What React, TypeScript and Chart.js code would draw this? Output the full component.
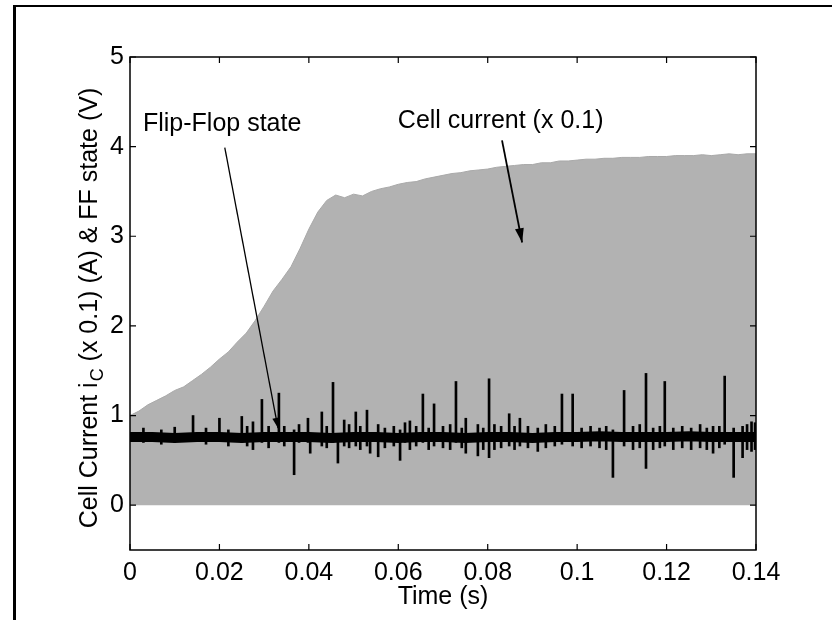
import { useEffect, useRef } from "react";
import { Chart, registerables } from "chart.js";

Chart.register(...registerables);

const FONT = "'Liberation Sans', Arial, Helvetica, sans-serif";

// Axis ticks
const xTickValues = [0, 0.02, 0.04, 0.06, 0.08, 0.1, 0.12, 0.14];
const xTickLabels = ["0", "0.02", "0.04", "0.06", "0.08", "0.1", "0.12", "0.14"];
const yTickValues = [0, 1, 2, 3, 4, 5];
const yTickLabels = ["0", "1", "2", "3", "4", "5"];

// Cell current (x 0.1): upper envelope of the switching current (filled down to 0)
const envelopeTime = [
  0, 0.002, 0.004, 0.006, 0.008, 0.01, 0.012, 0.014, 0.016, 0.018, 0.02, 0.022, 0.024, 0.026, 0.028,
  0.03, 0.032, 0.034, 0.036, 0.038, 0.04, 0.042, 0.044, 0.046, 0.048, 0.05, 0.052, 0.054, 0.056, 0.058,
  0.06, 0.062, 0.064, 0.066, 0.068, 0.07, 0.072, 0.074, 0.076, 0.078, 0.08, 0.082, 0.084, 0.086, 0.088,
  0.09, 0.092, 0.094, 0.096, 0.098, 0.1, 0.102, 0.104, 0.106, 0.108, 0.11, 0.112, 0.114, 0.116, 0.118,
  0.12, 0.122, 0.124, 0.126, 0.128, 0.13, 0.132, 0.134, 0.136, 0.138, 0.14,
];
const envelopeValue = [
  1.0, 1.05, 1.12, 1.17, 1.22, 1.28, 1.32, 1.39, 1.46, 1.54, 1.63, 1.71, 1.82, 1.92, 2.06,
  2.22, 2.39, 2.52, 2.66, 2.86, 3.08, 3.27, 3.4, 3.46, 3.43, 3.47, 3.45, 3.5, 3.53, 3.55,
  3.58, 3.6, 3.61, 3.64, 3.66, 3.68, 3.7, 3.71, 3.73, 3.74, 3.75, 3.77, 3.78, 3.79, 3.8,
  3.8, 3.82, 3.82, 3.84, 3.84, 3.85, 3.86, 3.86, 3.87, 3.87, 3.88, 3.88, 3.88, 3.89, 3.89,
  3.89, 3.9, 3.9, 3.9, 3.91, 3.9, 3.91, 3.92, 3.91, 3.92, 3.92,
];

// Flip-Flop state: baseline level
const ffTime = [
  0, 0.005, 0.01, 0.015, 0.02, 0.025, 0.03, 0.035, 0.04, 0.045, 0.05, 0.055, 0.06, 0.065, 0.07,
  0.075, 0.08, 0.085, 0.09, 0.095, 0.1, 0.105, 0.11, 0.115, 0.12, 0.125, 0.13, 0.135, 0.14,
];
const ffValue = [
  0.76, 0.76, 0.75, 0.76, 0.76, 0.75, 0.76, 0.76, 0.76, 0.75, 0.76, 0.76, 0.75, 0.76, 0.76,
  0.75, 0.76, 0.76, 0.75, 0.76, 0.76, 0.77, 0.76, 0.76, 0.76, 0.77, 0.76, 0.76, 0.76,
];

// Flip-Flop state: spikes (time, lowest value, highest value)
const spikeTime = [
  0.003, 0.007, 0.01, 0.0141, 0.017, 0.02, 0.022, 0.025, 0.0262, 0.0275, 0.0295, 0.031, 0.0333, 0.0345,
  0.0367, 0.0378, 0.0398, 0.0403, 0.0429, 0.044, 0.0454, 0.0465, 0.0479, 0.049, 0.0505, 0.0515, 0.053,
  0.0537, 0.0555, 0.057, 0.059, 0.0604, 0.0615, 0.0626, 0.064, 0.0655, 0.0668, 0.068, 0.07, 0.0716,
  0.0729, 0.0742, 0.0751, 0.0778, 0.079, 0.0803, 0.0815, 0.083, 0.0848, 0.086, 0.0872, 0.089, 0.0912,
  0.093, 0.095, 0.0966, 0.099, 0.101, 0.103, 0.105, 0.1065, 0.108, 0.1105, 0.1125, 0.114, 0.1154,
  0.117, 0.1185, 0.1196, 0.1215, 0.1235, 0.1255, 0.1275, 0.129, 0.1304, 0.1318, 0.133, 0.135, 0.137,
  0.138, 0.139, 0.1398,
];
const spikeLow = [
  0.7, 0.68, 0.7, 0.72, 0.68, 0.72, 0.66, 0.7, 0.66, 0.62, 0.7, 0.64, 0.7, 0.66,
  0.34, 0.7, 0.7, 0.58, 0.66, 0.64, 0.7, 0.47, 0.66, 0.64, 0.66, 0.62, 0.66,
  0.58, 0.54, 0.64, 0.66, 0.5, 0.7, 0.62, 0.66, 0.7, 0.62, 0.66, 0.64, 0.62,
  0.7, 0.64, 0.58, 0.55, 0.62, 0.53, 0.62, 0.64, 0.66, 0.62, 0.66, 0.64, 0.6,
  0.64, 0.66, 0.68, 0.66, 0.64, 0.66, 0.64, 0.62, 0.31, 0.66, 0.62, 0.64, 0.41,
  0.62, 0.64, 0.66, 0.62, 0.64, 0.62, 0.64, 0.62, 0.58, 0.64, 0.68, 0.31, 0.53,
  0.62, 0.6, 0.62,
];
const spikeHigh = [
  0.86, 0.84, 0.87, 1.0, 0.86, 0.97, 0.84, 0.99, 0.88, 0.93, 1.18, 0.88, 1.25, 0.88,
  0.84, 0.9, 0.97, 0.8, 1.04, 0.88, 1.37, 0.8, 0.95, 0.9, 1.04, 0.88, 1.06,
  0.8, 0.9, 0.86, 0.88, 0.84, 0.92, 0.94, 0.88, 1.24, 0.86, 1.13, 0.88, 0.9,
  1.38, 0.86, 0.97, 0.9, 0.86, 1.41, 0.9, 0.88, 1.02, 0.88, 0.97, 0.88, 0.86,
  0.9, 0.88, 1.24, 1.24, 0.86, 0.88, 0.86, 0.88, 0.84, 1.28, 0.88, 0.9, 1.47,
  0.86, 0.88, 1.38, 0.86, 0.88, 0.86, 0.9, 0.86, 0.88, 0.88, 1.44, 0.86, 0.88,
  0.9, 0.93, 0.92,
];

// Annotations (data coordinates)
const noteText = ["Flip-Flop state", "Cell current (x 0.1)"];
const noteX = [0.0029, 0.0599];
const noteY = [4.25, 4.28];
const arrowFromX = [0.0212, 0.0832];
const arrowFromY = [3.99, 4.07];
const arrowToX = [0.0331, 0.0877];
const arrowToY = [0.86, 2.93];

const yTitleMain = "Cell Current i";
const yTitleSub = "C";
const yTitleRest = " (x 0.1) (A) & FF state (V)";

const decorPlugin = {
  id: "decor",
  afterDatasetsDraw(chart: any) {
    const { ctx, chartArea: a, scales } = chart;
    const xs = scales.x;
    const ys = scales.y;
    ctx.save();
    // box
    ctx.strokeStyle = "#000";
    ctx.lineWidth = 1.5;
    ctx.strokeRect(a.left, a.top, a.right - a.left, a.bottom - a.top);
    // inward ticks
    ctx.lineWidth = 1.2;
    ctx.beginPath();
    for (const v of xTickValues) {
      const px = xs.getPixelForValue(v);
      ctx.moveTo(px, a.bottom);
      ctx.lineTo(px, a.bottom - 6);
      ctx.moveTo(px, a.top);
      ctx.lineTo(px, a.top + 6);
    }
    for (const v of yTickValues) {
      const py = ys.getPixelForValue(v);
      ctx.moveTo(a.left, py);
      ctx.lineTo(a.left + 6, py);
      ctx.moveTo(a.right, py);
      ctx.lineTo(a.right - 6, py);
    }
    ctx.stroke();

    // annotation texts
    ctx.fillStyle = "#000";
    ctx.font = `25px ${FONT}`;
    ctx.textBaseline = "middle";
    ctx.textAlign = "left";
    noteText.forEach((t, i) => {
      ctx.fillText(t, xs.getPixelForValue(noteX[i]), ys.getPixelForValue(noteY[i]));
    });
    // arrows
    arrowFromX.forEach((_, i) => {
      const x1 = xs.getPixelForValue(arrowFromX[i]);
      const y1 = ys.getPixelForValue(arrowFromY[i]);
      const x2 = xs.getPixelForValue(arrowToX[i]);
      const y2 = ys.getPixelForValue(arrowToY[i]);
      const ang = Math.atan2(y2 - y1, x2 - x1);
      ctx.strokeStyle = "#000";
      ctx.lineWidth = i === 0 ? 1.3 : 1.8;
      ctx.beginPath();
      ctx.moveTo(x1, y1);
      ctx.lineTo(x2, y2);
      ctx.stroke();
      const len = i === 0 ? 11 : 15;
      const half = i === 0 ? 0.35 : 0.3;
      ctx.beginPath();
      ctx.moveTo(x2, y2);
      ctx.lineTo(x2 - len * Math.cos(ang - half), y2 - len * Math.sin(ang - half));
      ctx.lineTo(x2 - len * Math.cos(ang + half), y2 - len * Math.sin(ang + half));
      ctx.closePath();
      ctx.fill();
    });

    // y-axis title with subscript
    const cx = 88;
    const cy = (a.top + a.bottom) / 2 + 5;
    ctx.translate(cx, cy);
    ctx.rotate(-Math.PI / 2);
    ctx.font = `25px ${FONT}`;
    const w1 = ctx.measureText(yTitleMain).width;
    const w3 = ctx.measureText(yTitleRest).width;
    ctx.font = `18px ${FONT}`;
    const w2 = ctx.measureText(yTitleSub).width;
    let sx = -(w1 + w2 + w3) / 2;
    ctx.textBaseline = "alphabetic";
    ctx.font = `25px ${FONT}`;
    ctx.fillText(yTitleMain, sx, 9);
    sx += w1 + 1;
    ctx.font = `18px ${FONT}`;
    ctx.fillText(yTitleSub, sx, 15);
    sx += w2;
    ctx.font = `25px ${FONT}`;
    ctx.fillText(yTitleRest, sx, 9);
    ctx.restore();
  },
};

export default function App() {
  const ref = useRef<HTMLCanvasElement | null>(null);

  useEffect(() => {
    if (!ref.current) return;
    const chart = new Chart(ref.current, {
      type: "line",
      data: {
        datasets: [
          {
            type: "bar",
            label: "FF spikes",
            data: spikeTime.map((t, i) => ({ x: t, y: [spikeLow[i], spikeHigh[i]] })) as any,
            backgroundColor: "#000",
            borderWidth: 0,
            barThickness: 2,
            grouped: false,
            order: 1,
          } as any,
          {
            type: "line",
            label: "Flip-Flop state",
            data: ffTime.map((t, i) => ({ x: t, y: ffValue[i] })),
            borderColor: "#000",
            borderWidth: 10,
            pointRadius: 0,
            fill: false,
            tension: 0,
            order: 2,
          },
          {
            type: "line",
            label: "Cell current (x 0.1)",
            data: envelopeTime.map((t, i) => ({ x: t, y: envelopeValue[i] })),
            borderColor: "#a9a9a9",
            backgroundColor: "#b2b2b2",
            borderWidth: 1,
            pointRadius: 0,
            fill: "origin",
            tension: 0,
            order: 3,
          },
        ],
      },
      options: {
        responsive: false,
        animation: false,
        events: [],
        layout: { padding: { left: 0, right: 76, top: 57, bottom: 0 } },
        plugins: { legend: { display: false }, tooltip: { enabled: false } },
        scales: {
          x: {
            type: "linear",
            min: 0,
            max: 0.14,
            offset: false,
            grid: { display: false, drawTicks: false },
            border: { display: false },
            afterBuildTicks: (s: any) => {
              s.ticks = xTickValues.map((v) => ({ value: v }));
            },
            afterFit: (s: any) => {
              s.height = 70;
            },
            ticks: {
              color: "#000",
              padding: 8,
              maxRotation: 0,
              autoSkip: false,
              font: { family: FONT, size: 25 },
              callback: (_v: any, i: number) => xTickLabels[i],
            },
            title: {
              display: true,
              text: "Time (s)",
              color: "#000",
              font: { family: FONT, size: 25 },
              padding: { top: 0, bottom: 8 },
            },
          },
          y: {
            type: "linear",
            min: -0.5,
            max: 5,
            grid: { display: false, drawTicks: false },
            border: { display: false },
            afterBuildTicks: (s: any) => {
              s.ticks = yTickValues.map((v) => ({ value: v }));
            },
            afterFit: (s: any) => {
              s.width = 130;
            },
            ticks: {
              color: "#000",
              padding: 6,
              autoSkip: false,
              font: { family: FONT, size: 25 },
              callback: (_v: any, i: number) => yTickLabels[i],
            },
          },
        },
      },
      plugins: [decorPlugin],
    });
    return () => chart.destroy();
  }, []);

  return (
    <div style={{ position: "fixed", left: 0, top: 0, width: 832, height: 620, background: "#fff" }}>
      <div
        style={{
          position: "absolute",
          left: 13,
          top: 5,
          right: 0,
          bottom: 0,
          borderTop: "2px solid #000",
          borderLeft: "3px solid #000",
        }}
      />
      <canvas ref={ref} width={832} height={620} style={{ position: "absolute", left: 0, top: 0 }} />
    </div>
  );
}
